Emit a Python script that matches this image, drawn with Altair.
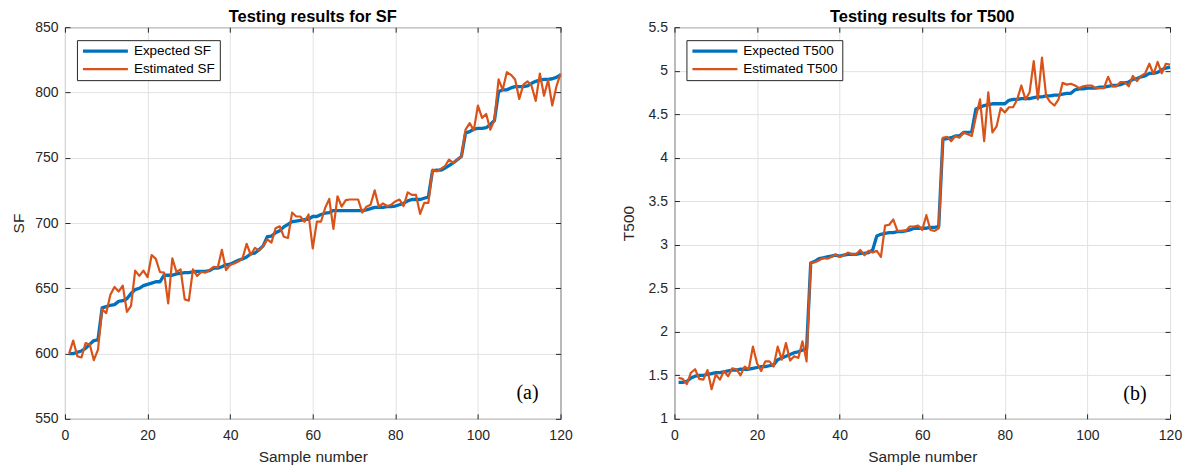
import altair as alt
import pandas as pd

sample = list(range(1, 121))

sf_expected = [
    600, 600, 601, 602, 604, 607, 610, 610.5, 635, 636,
    637, 637.5, 640, 640.5, 642, 646, 649, 650, 652, 653,
    654, 655, 655, 660, 660, 660, 661, 661.5, 662, 662,
    662.5, 663, 663, 663, 663.5, 665.5, 665.5, 666.5, 668, 668.5,
    670, 671.5, 672.5, 674, 676.5, 677, 679.5, 682.5, 689.5, 690,
    692.5, 694, 697, 699, 701, 701.5, 702, 702.5, 703, 705,
    705, 706.5, 707.5, 708, 709.5, 709.5, 709.5, 709.5, 709.5, 709.5,
    709.5, 709.5, 710, 711, 712, 712, 712, 712.5, 712.5, 713,
    714, 715, 717, 718, 718, 718, 719, 720, 740, 740.5,
    740.5, 742, 744, 746, 748.5, 751, 769, 770, 772, 772.5,
    772.5, 773, 775.5, 778.5, 800.5, 802, 802, 803.5, 804.5, 804.5,
    804.5, 805, 807, 808.5, 809.5, 810, 810, 810.5, 811.5, 813.5,
]

sf_estimated = [
    600, 610, 598, 597, 608, 607, 595, 603, 634, 631,
    645, 651, 647.5, 652, 632, 636.5, 663.5, 659.5, 663.5, 658.5,
    675.5, 672.5, 662.5, 662, 638.5, 673, 662.5, 664.5, 641.5, 640.5,
    664.5, 659.5, 662.5, 662, 664, 666.5, 666, 679.5, 664, 668,
    669, 670.5, 673, 684, 675.5, 681, 679, 682.5, 687.5, 685,
    696, 697.5, 689.5, 688.5, 708, 705, 705, 701, 706.5, 680.5,
    701, 701, 711.5, 718.5, 695.5, 720.5, 712.5, 717.5, 718, 718,
    718, 708, 712.5, 714, 725, 712.5, 715, 713, 714, 716.5,
    718, 713, 723.5, 721.5, 721.5, 707, 715.5, 715.5, 741, 739.5,
    741.5, 743.5, 748.5, 746, 748.5, 751, 771.5, 776.5, 771, 790,
    780.5, 783.5, 771.5, 779, 810, 802, 815.5, 813.5, 810, 795,
    806, 808.5, 805, 793.5, 814.5, 797.5, 809.5, 790, 804.5, 814.5,
]

t500_expected = [
    1.42, 1.42, 1.43, 1.47, 1.49, 1.50, 1.50, 1.51, 1.52, 1.53,
    1.53, 1.54, 1.55, 1.56, 1.56, 1.57, 1.57, 1.57, 1.58, 1.59,
    1.60, 1.60, 1.61, 1.62, 1.68, 1.70, 1.72, 1.74, 1.76, 1.77,
    1.79, 1.80, 2.79, 2.81, 2.84, 2.85, 2.86, 2.87, 2.88, 2.87,
    2.88, 2.89, 2.89, 2.89, 2.90, 2.90, 2.91, 2.94, 3.10, 3.12,
    3.13, 3.14, 3.14, 3.15, 3.15, 3.16, 3.17, 3.19, 3.19, 3.19,
    3.19, 3.20, 3.20, 3.21, 4.21, 4.22, 4.23, 4.25, 4.25, 4.29,
    4.29, 4.30, 4.56, 4.58, 4.60, 4.61, 4.62, 4.62, 4.62, 4.62,
    4.66, 4.67, 4.67, 4.68, 4.68, 4.68, 4.69, 4.70, 4.70, 4.71,
    4.71, 4.72, 4.72, 4.73, 4.74, 4.74, 4.78, 4.79, 4.79, 4.80,
    4.80, 4.80, 4.81, 4.81, 4.82, 4.83, 4.83, 4.84, 4.86, 4.87,
    4.90, 4.91, 4.93, 4.94, 4.97, 4.97, 4.98, 5.01, 5.03, 5.04,
]

t500_estimated = [
    1.47, 1.46, 1.40, 1.53, 1.57, 1.46, 1.45, 1.56, 1.34, 1.51,
    1.45, 1.55, 1.49, 1.58, 1.57, 1.50, 1.60, 1.57, 1.83, 1.64,
    1.55, 1.66, 1.66, 1.60, 1.83, 1.68, 1.87, 1.67, 1.72, 1.70,
    1.89, 1.66, 2.79, 2.80, 2.82, 2.85, 2.84, 2.86, 2.89, 2.86,
    2.88, 2.91, 2.89, 2.89, 2.94, 2.88, 2.93, 2.91, 2.93, 2.86,
    3.22, 3.23, 3.29, 3.16, 3.16, 3.16, 3.21, 3.21, 3.22, 3.17,
    3.34, 3.17, 3.16, 3.19, 4.23, 4.24, 4.19, 4.25, 4.23, 4.29,
    4.27, 4.25, 4.47, 4.67, 4.19, 4.75, 4.29, 4.36, 4.57, 4.52,
    4.58, 4.58, 4.67, 4.83, 4.67, 4.75, 5.11, 4.67, 5.15, 4.71,
    4.64, 4.60, 4.67, 4.86, 4.84, 4.85, 4.83, 4.80, 4.82, 4.83,
    4.83, 4.80, 4.80, 4.80, 4.93, 4.82, 4.82, 4.87, 4.87, 4.82,
    4.94, 4.88, 4.94, 4.97, 5.08, 4.96, 5.10, 4.97, 5.08, 5.07,
]

x_ticks = [0, 20, 40, 60, 80, 100, 120]
sf_ticks = [550, 600, 650, 700, 750, 800, 850]
t500_ticks = [1, 1.5, 2, 2.5, 3, 3.5, 4, 4.5, 5, 5.5]

BLUE = "#0072BD"
ORANGE = "#D95319"
AXC = "#262626"
SANS = "Liberation Sans"
W, H = 496, 392


def panel(name, expected, estimated, y_ticks, tag, tag_x, tag_y):
    exp_label = f"Expected {name}"
    est_label = f"Estimated {name}"
    df = pd.DataFrame({
        "n": sample + sample,
        "value": expected + estimated,
        "series": [exp_label] * len(sample) + [est_label] * len(sample),
    })
    tag_df = pd.DataFrame({"tx": [tag_x], "ty": [tag_y], "label": [tag]})

    xs = alt.Scale(domain=[x_ticks[0], x_ticks[-1]], nice=False, zero=False)
    ys = alt.Scale(domain=[y_ticks[0], y_ticks[-1]], nice=False, zero=False)

    leg = alt.Legend(
        title=None, orient="none", legendX=12, legendY=13,
        fillColor="white", strokeColor=AXC, padding=4,
        symbolType="stroke", symbolSize=2025, clipHeight=14, rowPadding=4,
        labelFont=SANS, labelFontSize=13.5, labelColor="black", labelOffset=4,
    )

    lines = alt.Chart(df).mark_line(strokeJoin="round").encode(
        x=alt.X("n:Q", scale=xs, axis=alt.Axis(
            orient="bottom", values=x_ticks, title="Sample number", grid=True,
            ticks=False, domain=False, labelPadding=10, titlePadding=7,
            labelFlush=False)),
        y=alt.Y("value:Q", scale=ys, axis=alt.Axis(
            orient="left", values=y_ticks, title=name, format="~r", grid=True,
            ticks=False, domain=False, labelPadding=7, titleX=-46, titleY=H / 2,
            titleBaseline="middle")),
        color=alt.Color("series:N", scale=alt.Scale(
            domain=[exp_label, est_label], range=[BLUE, ORANGE]), legend=leg),
        strokeWidth=alt.StrokeWidth("series:N", scale=alt.Scale(
            domain=[exp_label, est_label], range=[3.3, 2.2]), legend=leg),
    )

    tick_axis = dict(labels=False, grid=False, domain=False, ticks=True,
                     tickSize=5, tickColor=AXC, tickWidth=1, title=None, offset=-5)
    ticks_tr = alt.Chart(df).mark_point(opacity=0).encode(
        x=alt.X("n:Q", scale=xs, axis=alt.Axis(orient="top", values=x_ticks, **tick_axis)),
        y=alt.Y("value:Q", scale=ys, axis=alt.Axis(orient="right", values=y_ticks, **tick_axis)),
    )
    ticks_bl = alt.Chart(df).mark_point(opacity=0).encode(
        x=alt.X("n:Q", scale=xs, axis=alt.Axis(orient="bottom", values=x_ticks, **tick_axis)),
        y=alt.Y("value:Q", scale=ys, axis=alt.Axis(orient="left", values=y_ticks, **tick_axis)),
    )

    text = alt.Chart(tag_df).mark_text(
        font="Liberation Serif", fontSize=20, color="black"
    ).encode(
        x=alt.X("tx:Q", scale=xs, axis=None),
        y=alt.Y("ty:Q", scale=ys, axis=None),
        text="label:N",
    )

    return alt.layer(lines, ticks_tr, ticks_bl, text).resolve_axis(
        x="independent", y="independent"
    ).properties(
        width=W, height=H,
        title=alt.TitleParams(
            f"Testing results for {name}", fontSize=16.5, fontWeight="bold",
            font=SANS, color="black", offset=-5, anchor="middle", frame="group"),
    )


left = panel("SF", sf_expected, sf_estimated, sf_ticks, "(a)", 112, 569.5)
right = panel("T500", t500_expected, t500_estimated, t500_ticks, "(b)", 111.5, 1.29)

chart = alt.hconcat(left, right, spacing=114, bounds="flush").resolve_scale(
    x="independent", y="independent", color="independent", strokeWidth="independent"
).properties(
    padding={"left": 3, "top": 0, "right": 0, "bottom": 0}
).configure_view(
    stroke=AXC, strokeWidth=1
).configure_axis(
    labelFont=SANS, labelFontSize=14, labelColor=AXC,
    titleFont=SANS, titleFontSize=15.5, titleColor=AXC, titleFontWeight="normal",
    gridColor="#e2e2e2", gridWidth=1,
)

chart.save("out.html", embed_options={"renderer": "svg", "actions": False})
